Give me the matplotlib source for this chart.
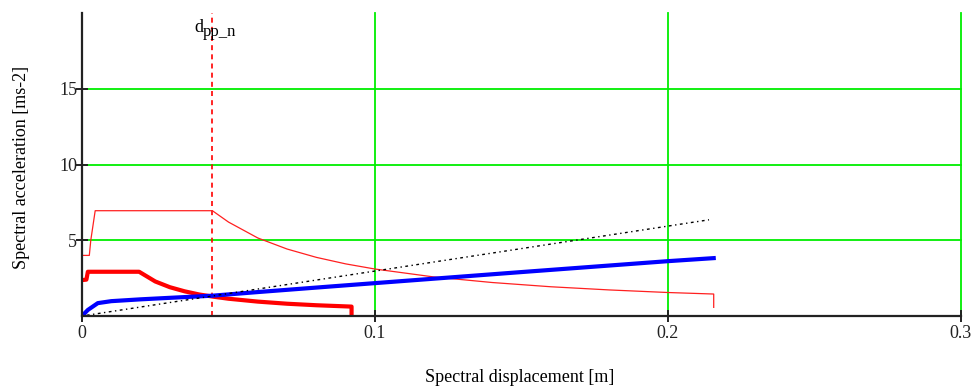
import matplotlib
matplotlib.use("Agg")
import matplotlib.pyplot as plt

# ---- data ----
# elastic demand spectrum (thin red)
el_d = [0.0, 0.0025, 0.0030, 0.0045, 0.0445, 0.050, 0.060, 0.070, 0.080, 0.090, 0.100,
        0.120, 0.140, 0.160, 0.180, 0.200, 0.2156, 0.2156]
el_sa = [4.0, 4.0, 5.0, 6.95, 6.95, 6.20, 5.15, 4.42, 3.87, 3.44, 3.10,
         2.58, 2.21, 1.93, 1.72, 1.55, 1.45, 0.57]

# inelastic demand spectrum (thick red)
in_d = [0.0, 0.0015, 0.0020, 0.0195, 0.025, 0.030, 0.035, 0.040, 0.045, 0.050,
        0.060, 0.070, 0.080, 0.092, 0.092]
in_sa = [2.37, 2.40, 2.92, 2.92, 2.28, 1.90, 1.63, 1.42, 1.27, 1.14,
         0.95, 0.81, 0.71, 0.62, 0.18]

# capacity curve (blue)
cap_d = [0.0, 0.002, 0.0054, 0.010, 0.020, 0.030, 0.0445, 0.060, 0.0836, 0.100,
         0.150, 0.200, 0.2156]
cap_sa = [0.0, 0.40, 0.85, 0.98, 1.10, 1.20, 1.34, 1.58, 1.93, 2.17,
          2.90, 3.62, 3.82]

# period line (black dotted)
per_d = [0.0, 0.214]
per_sa = [0.0, 6.35]

# performance point displacement
d_pp = 0.0445

x_ticks = [0, 0.1, 0.2, 0.3]
x_ticklabels = ["0", "0.1", "0.2", "0.3"]
y_ticks = [5, 10, 15]
y_ticklabels = ["5", "10", "15"]

# ---- figure ----
plt.rcParams['font.family'] = ['Liberation Serif', 'DejaVu Serif']
fig = plt.figure(figsize=(9.78, 3.90), dpi=100)
ax = fig.add_axes([82/978, 1-316/390, (961-82)/978, (316-13)/390])
ax.set_xlim(0, 0.3)
ax.set_ylim(0, 20)

green = '#00ee00'
for yv in y_ticks:
    ax.axhline(yv, color=green, lw=1.3, zorder=1, clip_on=False)
for xv in x_ticks[1:]:
    ax.axvline(xv, color=green, lw=1.3, zorder=1, clip_on=False)

ax.plot(el_d, el_sa, color='#ff2020', lw=0.9, zorder=3)
ax.plot(in_d, in_sa, color='#ff0000', lw=3.0, zorder=3)
ax.plot(cap_d, cap_sa, color='#0000ff', lw=3.0, zorder=4)
ax.plot(per_d, per_sa, color='black', lw=1.0, linestyle=(0, (1, 2.5, 2, 2.5)), zorder=5)
ax.axvline(d_pp, color='#ff0000', lw=1.2, linestyle=(0, (3, 2.5)), zorder=2, clip_on=False)

for s in ['top', 'right']:
    ax.spines[s].set_visible(False)
for s in ['left', 'bottom']:
    ax.spines[s].set_linewidth(1.6)
    ax.spines[s].set_color('#222222')
    ax.spines[s].set_zorder(6)

ax.set_xticks(x_ticks)
ax.set_xticklabels(x_ticklabels)
ax.set_yticks(y_ticks)
ax.set_yticklabels(y_ticklabels)
ax.tick_params(direction='inout', length=9, width=1.4, labelsize=13, pad=2, colors='#222222')
ax.tick_params(axis='y', pad=-1)

fig.text(520/978, 1-378/390, "Spectral displacement [m]", ha='center', va='center', fontsize=13)
fig.text(22/978, 1-167/390, "Spectral acceleration [ms-2]", ha='center', va='center',
         rotation=90, fontsize=13)

fig.text(194/978, 1-32/390, "d", ha='left', va='baseline', fontsize=13)
fig.text(203/978, 1-36/390, "pp_n", ha='left', va='baseline', fontsize=12)

fig.savefig("out.png", dpi=100)
